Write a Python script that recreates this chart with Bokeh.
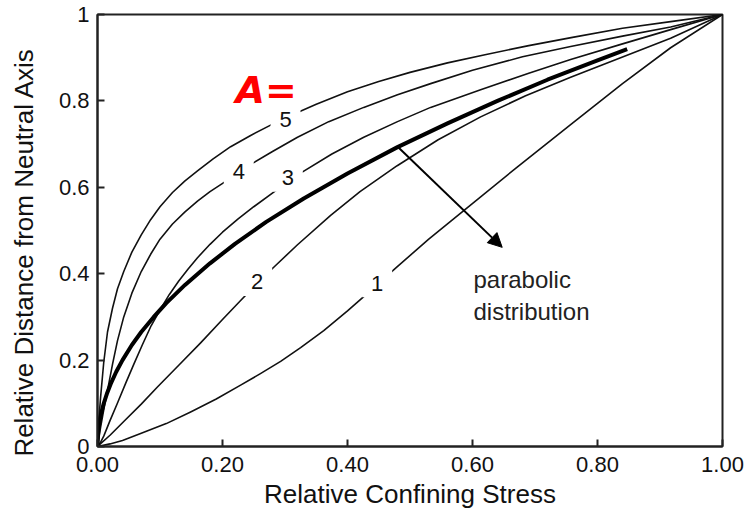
from bokeh.plotting import figure
from bokeh.models import Range1d, FixedTicker, Arrow, NormalHead
from bokeh.core.properties import value
from bokeh.embed import file_html
from bokeh.resources import INLINE

# axis ticks and their printed labels
x_ticks = [0.0, 0.2, 0.4, 0.6, 0.8, 1.0]
x_tick_labels = ["0.00", "0.20", "0.40", "0.60", "0.80", "1.00"]
y_ticks = [0.0, 0.2, 0.4, 0.6, 0.8, 1.0]
y_tick_labels = ["0", "0.2", "0.4", "0.6", "0.8", "1"]

# confining stress (x) vs distance from neutral axis (y), one curve per A value
a1_x = [0, 0.02, 0.04, 0.069, 0.11, 0.149, 0.19, 0.229, 0.26, 0.293, 0.325, 0.362, 0.4, 0.4315,
        0.477, 0.53, 0.586, 0.67, 0.757, 0.84, 0.917, 1.0]
a1_y = [0, 0.006, 0.014, 0.030, 0.053, 0.080, 0.110, 0.142, 0.168, 0.197, 0.229, 0.268, 0.314, 0.354,
        0.413, 0.480, 0.546, 0.645, 0.745, 0.840, 0.923, 1.0]

a2_x = [0, 0.02, 0.042, 0.07, 0.0955, 0.13, 0.165, 0.2, 0.229, 0.255, 0.282, 0.32, 0.373, 0.42,
        0.4795, 0.545, 0.613, 0.685, 0.757, 0.837, 0.917, 1.0]
a2_y = [0, 0.026, 0.058, 0.098, 0.137, 0.188, 0.240, 0.294, 0.338, 0.377, 0.415, 0.467, 0.535, 0.590,
        0.650, 0.710, 0.763, 0.812, 0.855, 0.900, 0.945, 1.0]

a3_x = [0, 0.005, 0.01, 0.02, 0.0315, 0.045, 0.058, 0.072, 0.086, 0.1, 0.115, 0.13, 0.145, 0.16,
        0.18, 0.2, 0.225, 0.25, 0.282, 0.3275, 0.375, 0.426, 0.48, 0.533, 0.613, 0.69, 0.757, 0.84,
        0.917, 1.0]
a3_y = [0, 0.010, 0.024, 0.060, 0.099, 0.146, 0.190, 0.236, 0.280, 0.316, 0.352, 0.383, 0.411, 0.437,
        0.468, 0.496, 0.527, 0.555, 0.589, 0.635, 0.677, 0.716, 0.752, 0.785, 0.826, 0.864, 0.896, 0.932,
        0.965, 1.0]

a4_x = [0, 0.005, 0.01, 0.016, 0.024, 0.032, 0.042, 0.055, 0.07, 0.085, 0.1, 0.12, 0.14, 0.16, 0.18,
        0.202, 0.225, 0.25, 0.28, 0.32, 0.37, 0.426, 0.48, 0.533, 0.6, 0.68, 0.757, 0.84, 0.917, 1.0]
a4_y = [0, 0.045, 0.085, 0.130, 0.190, 0.245, 0.300, 0.355, 0.405, 0.445, 0.480, 0.515, 0.543, 0.568,
        0.590, 0.611, 0.633, 0.657, 0.683, 0.716, 0.752, 0.785, 0.814, 0.840, 0.871, 0.902, 0.926, 0.950,
        0.971, 1.0]

a5_x = [0, 0.002, 0.005, 0.01, 0.016, 0.024, 0.032, 0.042, 0.055, 0.07, 0.085, 0.1, 0.12, 0.14, 0.16,
        0.185, 0.213, 0.245, 0.277, 0.31, 0.35, 0.4, 0.45, 0.5, 0.56, 0.62, 0.69, 0.76, 0.84, 0.92, 1.0]
a5_y = [0, 0.060, 0.115, 0.195, 0.265, 0.320, 0.365, 0.405, 0.450, 0.490, 0.525, 0.555, 0.588, 0.615,
        0.638, 0.666, 0.694, 0.720, 0.744, 0.767, 0.792, 0.821, 0.845, 0.866, 0.888, 0.907, 0.928, 0.947,
        0.968, 0.984, 1.0]

# parabolic distribution (heavy line)
par_x = [0, 0.001, 0.003, 0.006, 0.01, 0.015, 0.022, 0.03, 0.04, 0.055, 0.07, 0.09, 0.11, 0.14, 0.18,
         0.22, 0.27, 0.33, 0.4, 0.48, 0.56, 0.64, 0.72, 0.8, 0.8475]
par_y = [0, 0.032, 0.055, 0.077, 0.100, 0.122, 0.148, 0.173, 0.200, 0.235, 0.265, 0.300, 0.332, 0.374,
         0.424, 0.469, 0.520, 0.574, 0.632, 0.693, 0.748, 0.800, 0.849, 0.894, 0.920]

# in-line curve labels
curve_labels = ["1", "2", "3", "4", "5"]
curve_label_x = [0.4475, 0.2555, 0.3045, 0.226, 0.3008]
curve_label_y = [0.378, 0.381, 0.622, 0.636, 0.757]

FONT = "Liberation Sans"
INK = "#111111"

p = figure(width=747, height=518, output_backend="svg", toolbar_location=None,
           x_range=Range1d(0, 1), y_range=Range1d(0, 1),
           min_border_left=97, min_border_right=25, min_border_top=14, min_border_bottom=72)
p.background_fill_color = "white"
p.border_fill_color = "white"
p.outline_line_color = "#222222"
p.outline_line_width = 2
p.xgrid.visible = False
p.ygrid.visible = False

for ax, ticks, labels in ((p.xaxis[0], x_ticks, x_tick_labels), (p.yaxis[0], y_ticks, y_tick_labels)):
    ax.ticker = FixedTicker(ticks=ticks)
    ax.major_label_overrides = {t: s for t, s in zip(ticks, labels)}
    ax.major_tick_in = 7
    ax.major_tick_out = 0
    ax.minor_tick_line_color = None
    ax.major_tick_line_width = 2
    ax.major_tick_line_color = "#222222"
    ax.axis_line_width = 2
    ax.axis_line_color = "#222222"
    ax.major_label_text_font = FONT
    ax.major_label_text_font_size = "22px"
    ax.major_label_text_color = INK
    ax.axis_label_text_font = FONT
    ax.axis_label_text_font_size = "26px"
    ax.axis_label_text_font_style = "normal"
    ax.axis_label_text_color = INK

p.xaxis.major_label_standoff = 10
p.yaxis.major_label_standoff = 8
p.xaxis.axis_label = "Relative Confining Stress"
p.xaxis.axis_label_standoff = 4
# trailing no-break spaces lower the vertical title a little below the frame centre
p.yaxis.axis_label = "Relative Distance from Neutral Axis" + "\u00a0" * 6
p.yaxis.axis_label_standoff = 17

for xs, ys in ((a1_x, a1_y), (a2_x, a2_y), (a3_x, a3_y), (a4_x, a4_y), (a5_x, a5_y)):
    p.line(xs, ys, line_color=INK, line_width=1.6, line_join="round")
p.line(par_x, par_y, line_color="black", line_width=4, line_join="round")

# white patches open a gap in each curve behind its label
p.rect(curve_label_x, curve_label_y, width=30, height=28, width_units="screen", height_units="screen",
       fill_color="white", line_color=None)
p.text(curve_label_x, curve_label_y, text=curve_labels, text_align="center", text_baseline="middle",
       text_font=value(FONT), text_font_size="22px", text_color=INK)

p.text([0.2208], [0.825], text=["A="], text_align="left", text_baseline="alphabetic",
       text_font=value("DejaVu Sans"), text_font_style="bold italic", text_font_size="38px",
       text_color="#ff0000")

p.add_layout(Arrow(x_start=0.4795, y_start=0.695, x_end=0.6475, y_end=0.461, line_width=2,
                   line_color="black",
                   end=NormalHead(size=14, fill_color="black", line_color="black")))
p.text([0.6016, 0.6016], [0.386, 0.313], text=["parabolic", "distribution"], text_align="left",
       text_baseline="alphabetic", text_font=value(FONT), text_font_size="24px", text_color="#222222")

open("out.html", "w").write(file_html(p, INLINE))
